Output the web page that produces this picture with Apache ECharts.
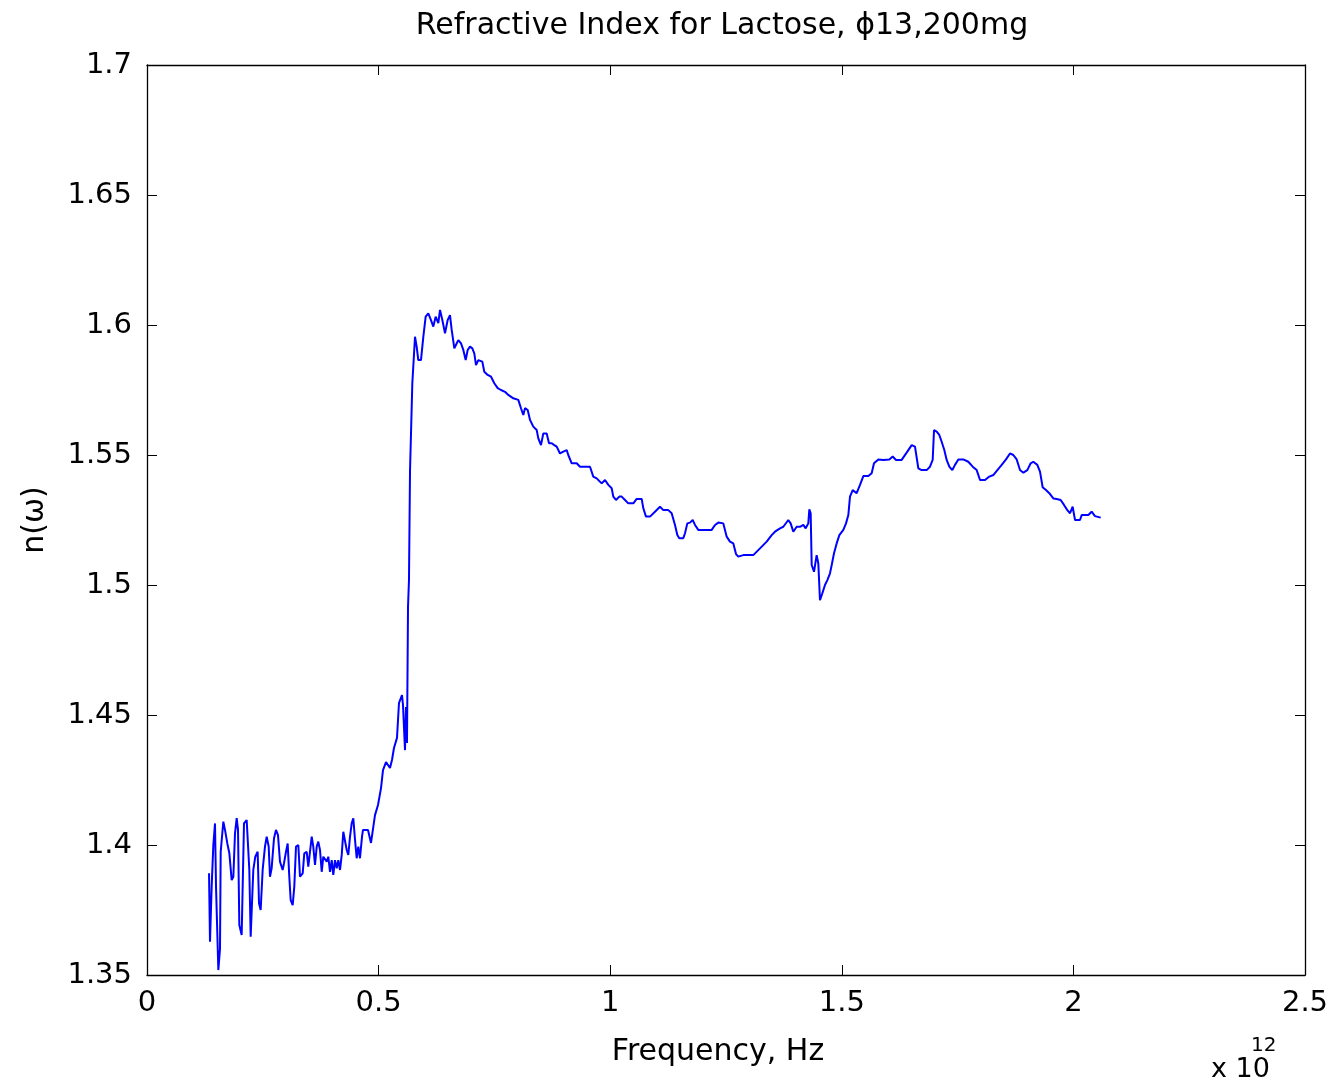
<!DOCTYPE html>
<html>
<head>
<meta charset="utf-8">
<script src="https://cdn.jsdelivr.net/npm/echarts@6/dist/echarts.min.js"></script>
<style>html,body{margin:0;padding:0;background:#fff}#c{width:1333px;height:1085px}</style>
</head>
<body>
<div id="c"></div>
<script>
// Frequency in units of 1e12 Hz
var freq = [
0.1339,0.1360,0.1396,0.1432,0.1468,0.1490,0.1540,0.1576,0.1591,0.1648,0.1684,0.1734,0.1778,0.1828,0.1864,0.1900,0.1936,0.1965,0.1993,0.2044,
0.2094,0.2152,0.2187,0.2209,0.2238,0.2295,0.2338,0.2389,0.2418,0.2454,0.2497,0.2547,0.2584,0.2627,0.2655,0.2691,0.2742,0.2785,0.2828,0.2871,
0.2929,0.2958,0.3001,0.3037,0.3072,0.3102,0.3145,0.3180,0.3217,0.3267,0.3303,0.3361,0.3396,0.3448,0.3482,0.3519,0.3556,0.3590,0.3627,0.3664,
0.3698,0.3735,0.3772,0.3806,0.3843,0.3880,0.3914,0.3951,0.3988,0.4022,0.4059,0.4096,0.4130,0.4167,0.4204,0.4238,0.4275,0.4312,0.4346,0.4383,
0.4419,0.4454,0.4491,0.4527,0.4562,0.4598,0.4642,0.4663,0.4771,0.4836,0.4922,0.4987,0.5052,0.5095,0.5160,0.5246,0.5289,0.5332,0.5397,0.5440,
0.5505,0.5527,0.5570,0.5592,0.5613,0.5635,0.5656,0.5678,0.5728,0.5786,0.5822,0.5857,0.5915,0.5966,0.6016,0.6073,0.6131,0.6181,0.6232,0.6289,
0.6326,0.6376,0.6434,0.6491,0.6541,0.6578,0.6635,0.6685,0.6721,0.6779,0.6829,0.6880,0.6923,0.6973,0.7023,0.7066,0.7103,0.7153,0.7239,0.7282,
0.7355,0.7427,0.7498,0.7571,0.7642,0.7729,0.7800,0.7908,0.8016,0.8074,0.8124,0.8161,0.8219,0.8269,0.8340,0.8413,0.8448,0.8506,0.8556,0.8629,
0.8679,0.8737,0.8793,0.8845,0.8916,0.8988,0.9061,0.9095,0.9169,0.9277,0.9348,0.9456,0.9564,0.9635,0.9708,0.9816,0.9888,0.9960,1.0032,1.0067,
1.0125,1.0197,1.0248,1.0320,1.0391,1.0499,1.0571,1.0680,1.0715,1.0773,1.0859,1.0967,1.1075,1.1147,1.1255,1.1327,1.1399,1.1449,1.1492,1.1578,
1.1615,1.1665,1.1723,1.1781,1.1831,1.1902,1.2047,1.2191,1.2263,1.2334,1.2442,1.2515,1.2586,1.2658,1.2716,1.2766,1.2874,1.3089,1.3234,1.3378,
1.3486,1.3558,1.3666,1.3737,1.3845,1.3896,1.3953,1.4026,1.4097,1.4170,1.4220,1.4277,1.4299,1.4328,1.4350,1.4400,1.4457,1.4493,1.4529,1.4579,
1.4637,1.4688,1.4745,1.4782,1.4832,1.4889,1.4947,1.5033,1.5091,1.5141,1.5177,1.5235,1.5321,1.5393,1.5465,1.5572,1.5645,1.5695,1.5789,1.5896,
1.6026,1.6098,1.6170,1.6292,1.6400,1.6509,1.6580,1.6652,1.6724,1.6832,1.6904,1.6962,1.6991,1.7048,1.7105,1.7156,1.7213,1.7264,1.7321,1.7386,
1.7444,1.7516,1.7623,1.7731,1.7826,1.7912,1.7984,1.8092,1.8185,1.8271,1.8358,1.8452,1.8545,1.8631,1.8703,1.8776,1.8847,1.8919,1.9005,1.9078,
1.9135,1.9221,1.9279,1.9336,1.9408,1.9480,1.9566,1.9639,1.9725,1.9797,1.9869,1.9927,1.9984,2.0035,2.0142,2.0179,2.0322,2.0394,2.0466,2.0589
];
// Refractive index n(omega)
var refIndex = [
1.3891,1.3628,1.3840,1.4000,1.4083,1.3840,1.3519,1.3600,1.3974,1.4090,1.4058,1.4006,1.3968,1.3865,1.3878,1.4045,1.4103,1.4058,1.3692,1.3654,
1.4083,1.4096,1.4096,1.3904,1.3647,1.3904,1.3955,1.3974,1.3776,1.3750,1.3904,1.3994,1.4032,1.3994,1.3878,1.3910,1.4026,1.4058,1.4038,1.3936,
1.3904,1.3930,1.3974,1.4006,1.3878,1.3788,1.3769,1.3840,1.3994,1.4000,1.3878,1.3891,1.3968,1.3974,1.3917,1.3974,1.4032,1.3994,1.3923,1.3994,
1.4013,1.3981,1.3897,1.3955,1.3962,1.3936,1.3955,1.3897,1.3942,1.3885,1.3942,1.3910,1.3942,1.3904,1.3962,1.4051,1.4045,1.3981,1.3962,1.4032,
1.4083,1.4103,1.4020,1.3949,1.3994,1.3949,1.4032,1.4058,1.4058,1.4008,1.4115,1.4154,1.4219,1.4288,1.4319,1.4296,1.4327,1.4373,1.4412,1.4546,
1.4577,1.4538,1.4365,1.4531,1.4392,1.4915,1.5019,1.5436,1.5776,1.5955,1.5917,1.5865,1.5865,1.5955,1.6032,1.6045,1.6019,1.5994,1.6032,1.6007,
1.6058,1.6019,1.5968,1.6019,1.6038,1.5981,1.5910,1.5929,1.5942,1.5929,1.5904,1.5865,1.5904,1.5917,1.5910,1.5891,1.5846,1.5865,1.5859,1.5820,
1.5808,1.5801,1.5776,1.5757,1.5750,1.5743,1.5731,1.5718,1.5712,1.5680,1.5654,1.5680,1.5673,1.5635,1.5609,1.5596,1.5564,1.5538,1.5583,1.5583,
1.5545,1.5545,1.5538,1.5532,1.5506,1.5513,1.5519,1.5500,1.5468,1.5468,1.5455,1.5455,1.5455,1.5417,1.5410,1.5391,1.5404,1.5385,1.5372,1.5340,
1.5327,1.5340,1.5340,1.5327,1.5314,1.5314,1.5331,1.5331,1.5295,1.5263,1.5263,1.5282,1.5301,1.5288,1.5288,1.5276,1.5231,1.5192,1.5180,1.5180,
1.5199,1.5237,1.5240,1.5250,1.5231,1.5212,1.5212,1.5212,1.5231,1.5240,1.5237,1.5186,1.5167,1.5160,1.5119,1.5109,1.5115,1.5115,1.5141,1.5167,
1.5192,1.5205,1.5218,1.5224,1.5250,1.5237,1.5205,1.5224,1.5224,1.5231,1.5218,1.5237,1.5291,1.5276,1.5077,1.5051,1.5115,1.5083,1.4942,1.4968,
1.5000,1.5019,1.5045,1.5077,1.5122,1.5160,1.5192,1.5212,1.5237,1.5269,1.5340,1.5365,1.5353,1.5385,1.5419,1.5419,1.5430,1.5468,1.5483,1.5481,
1.5483,1.5494,1.5481,1.5481,1.5509,1.5538,1.5532,1.5449,1.5442,1.5442,1.5455,1.5481,1.5596,1.5590,1.5577,1.5551,1.5519,1.5481,1.5455,1.5442,
1.5462,1.5483,1.5483,1.5474,1.5455,1.5442,1.5404,1.5404,1.5417,1.5423,1.5442,1.5462,1.5483,1.5506,1.5500,1.5483,1.5442,1.5432,1.5442,1.5468,
1.5474,1.5462,1.5436,1.5376,1.5365,1.5353,1.5333,1.5331,1.5327,1.5308,1.5288,1.5276,1.5301,1.5250,1.5250,1.5269,1.5269,1.5282,1.5265,1.5259
];
var xTicks = [0, 0.5, 1, 1.5, 2, 2.5];
var yTicks = [1.35, 1.4, 1.45, 1.5, 1.55, 1.6, 1.65, 1.7];
var titleText = 'Refractive Index for Lactose, \u03d513,200mg';
var xLabel = 'Frequency, Hz';
var yLabel = 'n(\u03c9)';

var FONT = '"DejaVu Sans", sans-serif';
var pts = freq.map(function (f, i) { return [f, refIndex[i]]; });
function fmt(v) { return String(parseFloat(Number(v).toFixed(2))); }

var chart = echarts.init(document.getElementById('c'), null, {renderer: 'canvas'});
var tickStyle = {show: true, inside: true, length: 10, lineStyle: {color: '#000', width: 1}};
var axisLine = {show: true, onZero: false, lineStyle: {color: '#000', width: 1.3}};
chart.setOption({
  animation: false,
  backgroundColor: '#fff',
  grid: {left: 147, right: 28, top: 65, bottom: 110, containLabel: false},
  xAxis: [{
    type: 'value', min: xTicks[0], max: xTicks[xTicks.length - 1], interval: 0.5,
    position: 'bottom',
    axisLine: axisLine, axisTick: tickStyle, splitLine: {show: false},
    axisLabel: {color: '#000', fontFamily: FONT, fontSize: 29, margin: 14, formatter: fmt},
    name: xLabel, nameLocation: 'middle', nameGap: 62,
    nameTextStyle: {color: '#000', fontFamily: FONT, fontSize: 30, padding: [0, 16, 0, 0]}
  }, {
    type: 'value', min: xTicks[0], max: xTicks[xTicks.length - 1], interval: 0.5,
    position: 'top',
    axisLine: axisLine, axisTick: tickStyle, splitLine: {show: false},
    axisLabel: {show: false}
  }],
  yAxis: [{
    type: 'value', min: yTicks[0], max: yTicks[yTicks.length - 1], interval: 0.05,
    position: 'left',
    axisLine: axisLine, axisTick: tickStyle, splitLine: {show: false},
    axisLabel: {color: '#000', fontFamily: FONT, fontSize: 29, margin: 15, formatter: fmt},
    name: yLabel, nameLocation: 'middle', nameGap: 97, nameRotate: 90,
    nameTextStyle: {color: '#000', fontFamily: FONT, fontSize: 30}
  }, {
    type: 'value', min: yTicks[0], max: yTicks[yTicks.length - 1], interval: 0.05,
    position: 'right',
    axisLine: axisLine, axisTick: tickStyle, splitLine: {show: false},
    axisLabel: {show: false}
  }],
  graphic: [
    {type: 'text', x: 722, y: 26, style: {text: titleText, font: '30px ' + FONT, fill: '#000', textAlign: 'center', textVerticalAlign: 'middle'}},
    {type: 'text', x: 1211, y: 1070, style: {text: 'x 10', font: '27px ' + FONT, fill: '#000', textAlign: 'left', textVerticalAlign: 'middle'}},
    {type: 'text', x: 1251, y: 1046, style: {text: '12', font: '20px ' + FONT, fill: '#000', textAlign: 'left', textVerticalAlign: 'middle'}}
  ],
  series: [{
    type: 'line', data: pts, xAxisIndex: 0, yAxisIndex: 0,
    showSymbol: false, symbol: 'none',
    lineStyle: {color: '#0000ff', width: 2},
    clip: true
  }]
});
</script>
</body>
</html>
